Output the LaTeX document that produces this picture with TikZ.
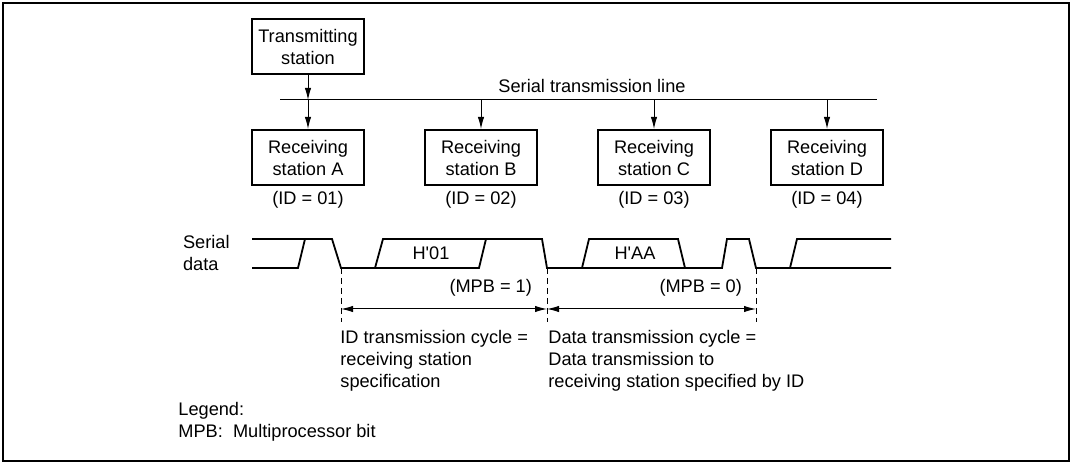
\documentclass[tikz,border=0pt]{standalone}
\usepackage{fontspec}
\setmainfont{Liberation Sans}
\usetikzlibrary{positioning,arrows.meta}

\begin{document}
\begin{tikzpicture}[x=0.5pt,y=-0.5pt,>={Latex[length=6pt,width=3.2pt]},
  font=\fontsize{9.1}{11}\selectfont,
  station/.style={draw,line width=1pt,minimum width=56pt,minimum height=27.5pt,align=center,inner sep=0pt},
  wave/.style={line width=0.9pt,line join=miter},
  guide/.style={dashed,line width=0.5pt,dash pattern=on 3pt off 2pt},
  node distance=29.5pt]
\useasboundingbox (0,0) rectangle (1072,464);
\draw[line width=1pt] (3,3) rectangle (1069,461);

% stations on the line
\node[station] (tx) at (308,47) {Transmitting\\station};
\node[station] (rxA) at (308,157.5) {Receiving\\station A};
\node[station] (rxB) [right=of rxA] {Receiving\\station B};
\node[station] (rxC) [right=of rxB] {Receiving\\station C};
\node[station] (rxD) [right=of rxC] {Receiving\\station D};
\node (idA) [below=-1pt of rxA] {(ID = 01)};
\node (idB) [below=-1pt of rxB] {(ID = 02)};
\node (idC) [below=-1pt of rxC] {(ID = 03)};
\node (idD) [below=-1pt of rxD] {(ID = 04)};

\coordinate (busL) at (280,100);
\coordinate (busR) at (877,100);
\coordinate (busM) at (592,100);
\draw[line width=0.5pt] (busL) -- (busR);
\node (busname) [above=0pt of busM] {Serial transmission line};
\draw[->,line width=0.5pt] (tx) -- (tx |- busL);
\draw[->,line width=0.5pt] (rxA |- busL) -- (rxA);
\draw[->,line width=0.5pt] (rxB |- busL) -- (rxB);
\draw[->,line width=0.5pt] (rxC |- busL) -- (rxC);
\draw[->,line width=0.5pt] (rxD |- busL) -- (rxD);

% serial data
\node[anchor=west,align=left] (sd) at (176,253) {Serial\\data};
\draw[wave] (252,268) -- (298,268) -- (305,239) -- (332,239) -- (341,268) -- (479,268) -- (486,239);
\draw[wave] (252,239) -- (305,239);
\draw[wave] (375,268) -- (383,239) -- (542,239) -- (547,268) -- (722,268) -- (727,239) -- (749,239) -- (756,268) -- (891,268);
\draw[wave] (582,268) -- (589,239) -- (678,239) -- (685,268);
\draw[wave] (790,268) -- (797,239) -- (891,239);
\node (d01) at (431,253) {H\textquotesingle 01};
\node (dAA) at (635,253) {H\textquotesingle AA};

\coordinate (t0) at (341,268);
\coordinate (t1) at (547,268);
\coordinate (t2) at (756,268);
\coordinate (arr) at (0,309);
\draw[guide] (t0) -- ++(0,54);
\draw[guide] (t1) -- ++(0,54);
\draw[guide] (t2) -- ++(0,54);
\draw[<->,line width=0.5pt] (t0 |- arr) -- (t1 |- arr);
\draw[<->,line width=0.5pt] (t1 |- arr) -- (t2 |- arr);
\node[anchor=east] (mpb1) at (539,288) {(MPB = 1)};
\node[anchor=east] (mpb0) at (749,288) {(MPB = 0)};

\node[anchor=north west,align=left,inner sep=0pt] (idcycle) at (340,330)
  {ID transmission cycle =\\receiving station\\specification};
\node[anchor=north west,align=left,inner sep=0pt] (datacycle) at (548,330)
  {Data transmission cycle =\\Data transmission to\\receiving station specified by ID};

\node[anchor=north west,align=left,inner sep=0pt] (legend) at (178,402)
  {Legend:\\MPB:\ \ Multiprocessor bit};
\end{tikzpicture}
\end{document}
